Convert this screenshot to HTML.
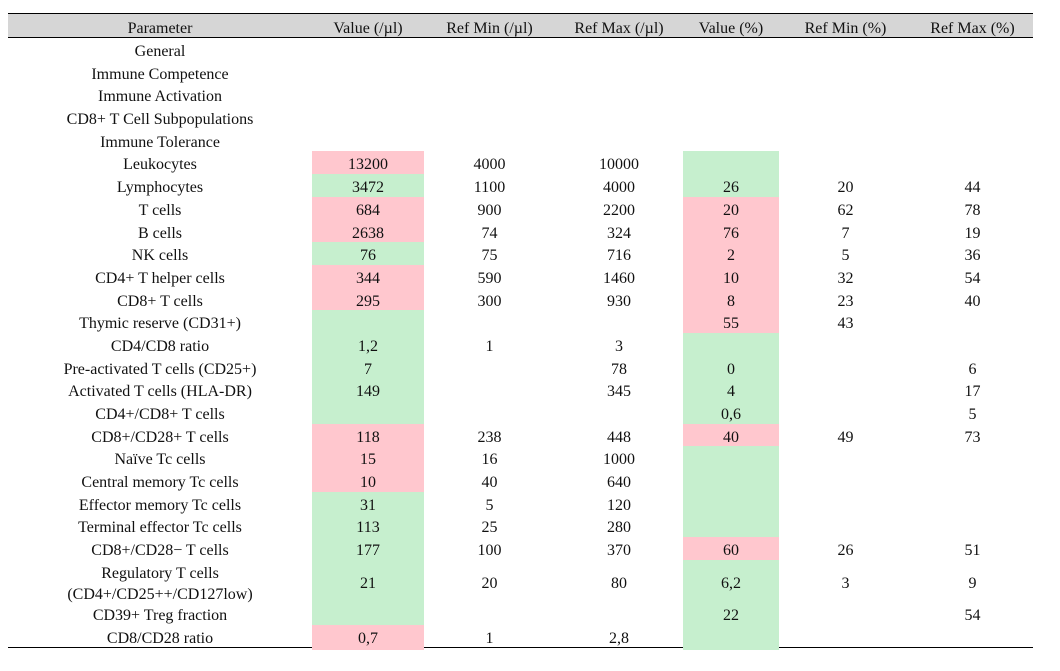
<!DOCTYPE html>
<html><head><meta charset="utf-8"><style>
body{margin:0;width:1060px;height:671px;background:#fff;font-family:"Liberation Serif","DejaVu Serif",serif;font-size:16px;color:#111;position:relative;overflow:hidden}
.t{position:absolute;left:8px;top:13px;width:1025px}
.r{display:grid;grid-template-columns:304px 112px 131px 128px 96px 133px 121px;height:22.7px;line-height:22.7px;text-align:center}
.r>div{padding-top:3px;box-sizing:border-box}
.h{background:#d6d6d6;border-top:1.5px solid #000;border-bottom:1.5px solid #000;height:23px;line-height:23px;box-sizing:content-box}
.r2{height:42px;line-height:21px}
.r2>div{display:flex;align-items:center;justify-content:center}
.p{background:#ffc7ce}.g{background:#c6efce}
.end{border-top:1.5px solid #000}
</style></head><body><div class="t">
<div class="r h"><div>Parameter</div><div>Value (/µl)</div><div>Ref Min (/µl)</div><div>Ref Max (/µl)</div><div>Value (%)</div><div>Ref Min (%)</div><div>Ref Max (%)</div></div>
<div class="r"><div>General</div><div></div><div></div><div></div><div></div><div></div><div></div></div>
<div class="r"><div>Immune Competence</div><div></div><div></div><div></div><div></div><div></div><div></div></div>
<div class="r"><div>Immune Activation</div><div></div><div></div><div></div><div></div><div></div><div></div></div>
<div class="r"><div>CD8+ T Cell Subpopulations</div><div></div><div></div><div></div><div></div><div></div><div></div></div>
<div class="r"><div>Immune Tolerance</div><div></div><div></div><div></div><div></div><div></div><div></div></div>
<div class="r"><div>Leukocytes</div><div class="p">13200</div><div>4000</div><div>10000</div><div class="g"></div><div></div><div></div></div>
<div class="r"><div>Lymphocytes</div><div class="g">3472</div><div>1100</div><div>4000</div><div class="g">26</div><div>20</div><div>44</div></div>
<div class="r"><div>T cells</div><div class="p">684</div><div>900</div><div>2200</div><div class="p">20</div><div>62</div><div>78</div></div>
<div class="r"><div>B cells</div><div class="p">2638</div><div>74</div><div>324</div><div class="p">76</div><div>7</div><div>19</div></div>
<div class="r"><div>NK cells</div><div class="g">76</div><div>75</div><div>716</div><div class="p">2</div><div>5</div><div>36</div></div>
<div class="r"><div>CD4+ T helper cells</div><div class="p">344</div><div>590</div><div>1460</div><div class="p">10</div><div>32</div><div>54</div></div>
<div class="r"><div>CD8+ T cells</div><div class="p">295</div><div>300</div><div>930</div><div class="p">8</div><div>23</div><div>40</div></div>
<div class="r"><div>Thymic reserve (CD31+)</div><div class="g"></div><div></div><div></div><div class="p">55</div><div>43</div><div></div></div>
<div class="r"><div>CD4/CD8 ratio</div><div class="g">1,2</div><div>1</div><div>3</div><div class="g"></div><div></div><div></div></div>
<div class="r"><div>Pre-activated T cells (CD25+)</div><div class="g">7</div><div></div><div>78</div><div class="g">0</div><div></div><div>6</div></div>
<div class="r"><div>Activated T cells (HLA-DR)</div><div class="g">149</div><div></div><div>345</div><div class="g">4</div><div></div><div>17</div></div>
<div class="r"><div>CD4+/CD8+ T cells</div><div class="g"></div><div></div><div></div><div class="g">0,6</div><div></div><div>5</div></div>
<div class="r"><div>CD8+/CD28+ T cells</div><div class="p">118</div><div>238</div><div>448</div><div class="p">40</div><div>49</div><div>73</div></div>
<div class="r"><div>Naïve Tc cells</div><div class="p">15</div><div>16</div><div>1000</div><div class="g"></div><div></div><div></div></div>
<div class="r"><div>Central memory Tc cells</div><div class="p">10</div><div>40</div><div>640</div><div class="g"></div><div></div><div></div></div>
<div class="r"><div>Effector memory Tc cells</div><div class="g">31</div><div>5</div><div>120</div><div class="g"></div><div></div><div></div></div>
<div class="r"><div>Terminal effector Tc cells</div><div class="g">113</div><div>25</div><div>280</div><div class="g"></div><div></div><div></div></div>
<div class="r"><div>CD8+/CD28− T cells</div><div class="g">177</div><div>100</div><div>370</div><div class="p">60</div><div>26</div><div>51</div></div>
<div class="r r2"><div>Regulatory T cells<br>(CD4+/CD25++/CD127low)</div><div class="g">21</div><div>20</div><div>80</div><div class="g">6,2</div><div>3</div><div>9</div></div>
<div class="r"><div>CD39+ Treg fraction</div><div class="g"></div><div></div><div></div><div class="g">22</div><div></div><div>54</div></div>
<div class="r"><div>CD8/CD28 ratio</div><div class="p">0,7</div><div>1</div><div>2,8</div><div class="g"></div><div></div><div></div></div>
<div class="end"></div>
</div></body></html>
